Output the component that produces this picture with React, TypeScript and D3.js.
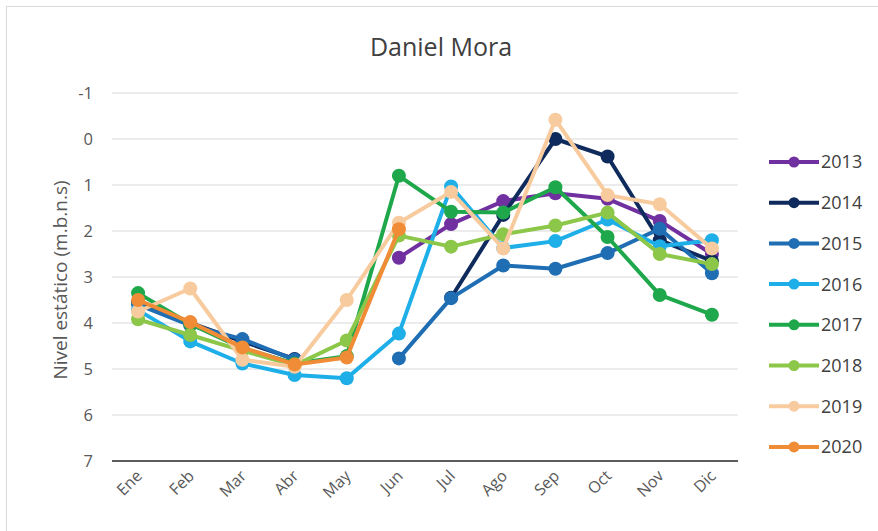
import React from "react";
import * as d3 from "d3";

const months = ["Ene", "Feb", "Mar", "Abr", "May", "Jun", "Jul", "Ago", "Sep", "Oct", "Nov", "Dic"];
const yTicks = [-1, 0, 1, 2, 3, 4, 5, 6, 7];
const seriesNames = ["2013", "2014", "2015", "2016", "2017", "2018", "2019", "2020"];
const seriesColors = ["#7030a0", "#0f2a5c", "#1f6eb4", "#1eaee8", "#1fa84b", "#8dc74a", "#f7cb9e", "#f08b36"];

type V = number | null;
const v2013: V[] = [null, null, null, null, null, 2.58, 1.85, 1.35, 1.18, 1.3, 1.78, 2.5];
const v2014: V[] = [3.55, 4.0, 4.4, 4.78, null, null, 3.45, 1.65, 0.0, 0.38, 2.2, 2.65];
const v2015: V[] = [3.6, 4.05, 4.35, 4.8, null, 4.77, 3.46, 2.75, 2.82, 2.48, 1.95, 2.92];
const v2016: V[] = [3.72, 4.4, 4.88, 5.13, 5.2, 4.23, 1.03, 2.37, 2.22, 1.75, 2.33, 2.2];
const v2017: V[] = [3.35, 4.02, 4.55, 4.88, 4.72, 0.8, 1.58, 1.6, 1.05, 2.13, 3.39, 3.82];
const v2018: V[] = [3.92, 4.26, 4.6, 4.92, 4.38, 2.1, 2.34, 2.07, 1.88, 1.6, 2.5, 2.72];
const v2019: V[] = [3.75, 3.25, 4.8, 4.95, 3.5, 1.82, 1.15, 2.38, -0.42, 1.22, 1.42, 2.38];
const v2020: V[] = [3.5, 3.98, 4.53, 4.9, 4.75, 1.96, null, null, null, null, null, null];
const seriesValues: V[][] = [v2013, v2014, v2015, v2016, v2017, v2018, v2019, v2020];

const W = 878;
const H = 531;
const plotLeft = 112;
const plotRight = 738;
const plotTop = 93;
const plotBottom = 461;

export default function App() {
  const x = d3.scaleBand<string>().domain(months).range([plotLeft, plotRight]);
  const xc = (m: string) => (x(m) as number) + x.bandwidth() / 2;
  const y = d3.scaleLinear().domain([-1, 7]).range([plotTop, plotBottom]);
  const line = d3
    .line<V>()
    .defined((d) => d !== null)
    .x((_, i) => xc(months[i]))
    .y((d) => y(d as number));

  const font = "'Open Sans', 'Noto Sans', sans-serif";
  const legendX = 769;
  const legendY0 = 162;
  const legendStep = 40.7;

  return (
    <svg width={W} height={H} style={{ position: "absolute", left: 0, top: 0 }} fontFamily={font}>
      <rect x={0} y={0} width={W} height={H} fill="#fff" />
      <rect x={6.5} y={6.5} width={W} height={H} fill="none" stroke="#d9d9d9" />
      <text x={441} y={56} textAnchor="middle" fontSize={25} fill="#404040">
        Daniel Mora
      </text>
      {yTicks.map((t) => (
        <g key={t}>
          {t !== 7 && (
            <line x1={plotLeft} x2={plotRight} y1={y(t)} y2={y(t)} stroke="#d9d9d9" strokeWidth={1.2} />
          )}
          <text x={93} y={y(t)} dy="0.35em" textAnchor="end" fontSize={16.5} fill="#595959">
            {t}
          </text>
        </g>
      ))}
      <line x1={plotLeft} x2={plotRight} y1={y(7)} y2={y(7)} stroke="#262626" strokeWidth={1.6} />
      {months.map((m) => (
        <text
          key={m}
          transform={`translate(${xc(m) + 1},${plotBottom + 12}) rotate(-45)`}
          textAnchor="end"
          dy="0.35em"
          fontSize={16}
          fill="#595959"
        >
          {m}
        </text>
      ))}
      <text
        transform={`translate(60,280) rotate(-90)`}
        textAnchor="middle"
        dy="0.35em"
        fontSize={19}
        fill="#595959"
      >
        Nivel estático (m.b.n.s)
      </text>
      {seriesValues.map((vals, si) => (
        <g key={seriesNames[si]}>
          <path d={line(vals) || ""} fill="none" stroke={seriesColors[si]} strokeWidth={4} strokeLinejoin="round" />
          {vals.map((d, i) =>
            d === null ? null : (
              <circle key={i} cx={xc(months[i])} cy={y(d)} r={7} fill={seriesColors[si]} />
            )
          )}
        </g>
      ))}
      {seriesNames.map((n, i) => {
        const ly = legendY0 + i * legendStep;
        return (
          <g key={n}>
            <line x1={legendX} x2={legendX + 50} y1={ly} y2={ly} stroke={seriesColors[i]} strokeWidth={4} />
            <circle cx={legendX + 25} cy={ly} r={5.5} fill={seriesColors[i]} />
            <text x={legendX + 52} y={ly} dy="0.36em" fontSize={18} fill="#404040">
              {n}
            </text>
          </g>
        );
      })}
    </svg>
  );
}
